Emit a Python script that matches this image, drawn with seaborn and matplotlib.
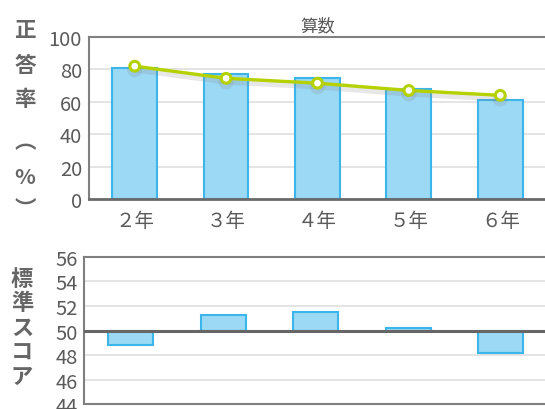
import matplotlib
matplotlib.use("Agg")
import matplotlib.pyplot as plt
import matplotlib.patheffects as pe
import seaborn as sns

# 学年別の正答率と標準スコア（算数）
grades = ["２年", "３年", "４年", "５年", "６年"]
school_rate = [81, 77, 75, 68, 61]      # 棒：正答率（%）
ref_rate = [82, 74.5, 71.5, 67, 64]     # 折れ線：比較用の正答率（%）
std_score = [48.8, 51.3, 51.5, 50.2, 48.2]  # 標準スコア
rate_ticks = [0, 20, 40, 60, 80, 100]
score_ticks = [44, 46, 48, 50, 52, 54, 56]

sns.set_theme(style="white")
plt.rcParams["font.family"] = ["Noto Sans CJK JP", "DejaVu Sans"]

TXT = "#5a5a5a"
BAR_FILL = "#9bd9f5"
BAR_EDGE = "#3cb5ea"
LINE = "#b5d200"
GRID = "#e4e4e4"
SPINE = "#808080"

fig = plt.figure(figsize=(5.45, 4.1), dpi=100)
ax1 = fig.add_axes([0.1633, 0.5122, 0.8385, 0.3951])
ax2 = fig.add_axes([0.155, 0.011, 0.8486, 0.3605])

# --- 正答率 ---
sns.barplot(x=grades, y=school_rate, ax=ax1, color=BAR_FILL, saturation=1,
            width=0.49, edgecolor=BAR_EDGE, linewidth=1.5, zorder=2)
sns.pointplot(x=grades, y=ref_rate, ax=ax1, color=LINE, markers="o",
              linewidth=2.4, markersize=7, markerfacecolor="white",
              markeredgewidth=2.2, markeredgecolor=LINE, zorder=4)
for ln in ax1.lines:
    ln.set_path_effects([pe.SimpleLineShadow(offset=(0, -2.5), shadow_color="#888888",
                                             alpha=0.2, linewidth=4), pe.Normal()])
ax1.set_ylim(0, 100)
ax1.set_xlim(-0.5, len(grades) - 0.5)
ax1.set_yticks(rate_ticks)
ax1.yaxis.grid(True, color=GRID, linewidth=1.4, zorder=0)
ax1.set_axisbelow(True)
ax1.set_title("算数", fontsize=12.5, color=TXT, pad=5)
ax1.tick_params(axis="y", length=0, pad=5, labelsize=14.5, labelcolor=TXT)
ax1.tick_params(axis="x", length=0, pad=8, labelsize=14, labelcolor=TXT)
ax1.set_xlabel("")
ax1.set_ylabel("")
ax1.spines["right"].set_visible(False)
for s in ("top", "left"):
    ax1.spines[s].set_color(SPINE)
    ax1.spines[s].set_linewidth(1.5)
ax1.spines["bottom"].set_color("#6a6a6a")
ax1.spines["bottom"].set_linewidth(2)

# --- 標準スコア（50 を基準に上下へ伸びる棒） ---
deviation = [v - 50 for v in std_score]
sns.barplot(x=grades, y=deviation, ax=ax2, color=BAR_FILL, saturation=1,
            width=0.49, edgecolor=BAR_EDGE, linewidth=1.5, bottom=50, zorder=2)
ax2.axhline(50, color="#666666", linewidth=2.2, zorder=3)
ax2.set_ylim(44, 56)
ax2.set_xlim(-0.5, len(grades) - 0.5)
ax2.set_yticks(score_ticks)
ax2.yaxis.grid(True, color=GRID, linewidth=1.4, zorder=0)
ax2.set_axisbelow(True)
ax2.set_xticks([])
ax2.tick_params(axis="y", length=0, pad=5, labelsize=14.5, labelcolor=TXT)
ax2.set_xlabel("")
ax2.set_ylabel("")
ax2.spines["right"].set_visible(False)
for s in ("top", "left", "bottom"):
    ax2.spines[s].set_color(SPINE)
    ax2.spines[s].set_linewidth(1.5)

# 縦書きの軸ラベル
def vertical_label(chars, x_px, y_px, size):
    for ch, y in zip(chars, y_px):
        fig.text(x_px / 545, 1 - y / 410, ch, ha="center", va="center",
                 fontsize=size, fontweight="bold", color="#666666")

vertical_label("正答率︵%︶", 25, [30, 65, 100, 142, 178, 210], 15.5)
vertical_label("標準スコア", 22, [280, 304, 328, 352, 377], 16)

fig.savefig("out.png", dpi=100)
